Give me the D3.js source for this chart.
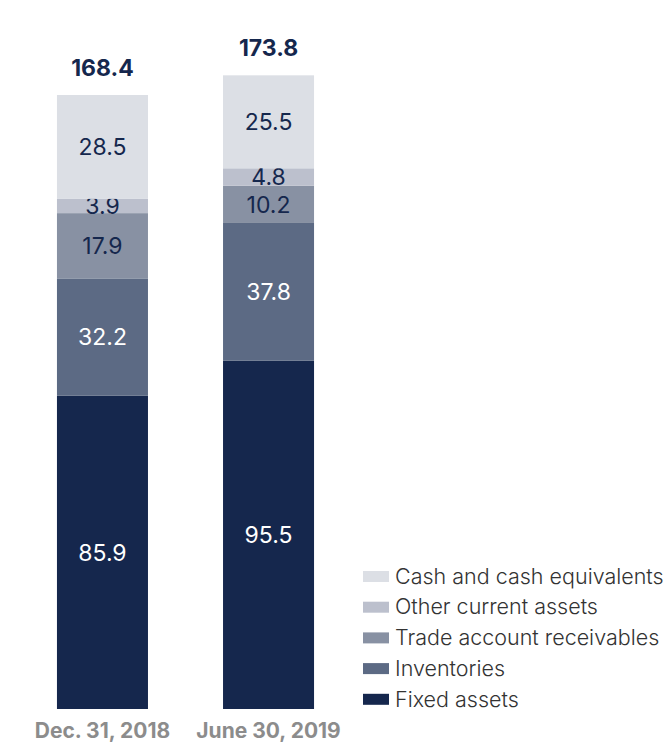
<!DOCTYPE html>
<html>
<head>
<meta charset="utf-8">
<script src="https://cdn.jsdelivr.net/npm/d3@7"></script>
<style>
  body { margin: 0; background: #fff; }
  svg text { font-family: Inter, "Noto Sans", sans-serif; }
</style>
</head>
<body>
<div id="chart"></div>
<script>
// data
var categories = ['Dec. 31, 2018', 'June 30, 2019'];
var series = ['Fixed assets', 'Inventories', 'Trade account receivables', 'Other current assets', 'Cash and cash equivalents'];
var fixedAssets = [85.9, 95.5];
var inventories = [32.2, 37.8];
var receivables = [17.9, 10.2];
var otherCurrent = [3.9, 4.8];
var cash = [28.5, 25.5];
var totals = [168.4, 173.8];

var colors = ['#15274d', '#5c6a84', '#8891a3', '#bcc0cd', '#dcdfe5'];
var labelColors = ['#fff', '#fff', '#15274d', '#15274d', '#15274d'];

var width = 665, height = 742;
var baseline = 709;

var rows = categories.map(function(c, i) {
  return {
    cat: c,
    'Fixed assets': fixedAssets[i],
    'Inventories': inventories[i],
    'Trade account receivables': receivables[i],
    'Other current assets': otherCurrent[i],
    'Cash and cash equivalents': cash[i]
  };
});

var stack = d3.stack().keys(series);
var layers = stack(rows);

var x = d3.scaleBand()
  .domain(categories)
  .range([0, 371])
  .paddingInner(0.452)
  .paddingOuter(0.343);

var y = d3.scaleLinear()
  .domain([0, 168.4])
  .range([baseline, 95]);

var svg = d3.select('#chart')
  .append('svg')
  .attr('width', width)
  .attr('height', height);

var g = svg.selectAll('g.layer')
  .data(layers)
  .enter()
  .append('g')
  .attr('class', 'layer');

g.selectAll('rect')
  .data(function(d) { return d; })
  .enter()
  .append('rect')
  .attr('x', function(d) { return x(d.data.cat); })
  .attr('width', x.bandwidth())
  .attr('y', function(d) { return y(d[1]); })
  .attr('height', function(d) { return y(d[0]) - y(d[1]); })
  .attr('fill', function(d, i, nodes) {
    return colors[series.indexOf(d3.select(nodes[i].parentNode).datum().key)];
  });

// value labels in the segments
g.each(function(layer, li) {
  d3.select(this).selectAll('text')
    .data(layer)
    .enter()
    .append('text')
    .attr('x', function(d) { return x(d.data.cat) + x.bandwidth() / 2; })
    .attr('y', function(d) { return (y(d[0]) + y(d[1])) / 2; })
    .attr('dy', '0.36em')
    .attr('text-anchor', 'middle')
    .attr('font-size', 23)
    .attr('fill', labelColors[li])
    .text(function(d) { return (d[1] - d[0]).toFixed(1); });
});

// totals on top
svg.selectAll('text.total')
  .data(totals)
  .enter()
  .append('text')
  .attr('class', 'total')
  .attr('x', function(d, i) { return x(categories[i]) + x.bandwidth() / 2; })
  .attr('y', function(d) { return y(d) - 19; })
  .attr('text-anchor', 'middle')
  .attr('font-size', 23)
  .attr('font-weight', 700)
  .attr('fill', '#15274d')
  .text(function(d) { return d.toFixed(1); });

// category labels
svg.selectAll('text.cat')
  .data(categories)
  .enter()
  .append('text')
  .attr('class', 'cat')
  .attr('x', function(d) { return x(d) + x.bandwidth() / 2; })
  .attr('y', 738)
  .attr('text-anchor', 'middle')
  .attr('font-size', 21)
  .attr('font-weight', 700)
  .attr('fill', '#8c8c8c')
  .text(function(d) { return d; });

// legend, top item is the top segment
var legendItems = series.slice().reverse();
var legend = svg.append('g').attr('transform', 'translate(363,576)');
var li = legend.selectAll('g')
  .data(legendItems)
  .enter()
  .append('g')
  .attr('transform', function(d, i) { return 'translate(0,' + (i * 30.7) + ')'; });
li.append('rect')
  .attr('x', 0)
  .attr('y', -5)
  .attr('width', 26)
  .attr('height', 11)
  .attr('fill', function(d) { return colors[series.indexOf(d)]; });
li.append('text')
  .attr('x', 32)
  .attr('y', 0)
  .attr('dy', '0.36em')
  .attr('font-size', 21.5)
  .attr('font-weight', 300)
  .attr('fill', '#333')
  .text(function(d) { return d; });
</script>
</body>
</html>
